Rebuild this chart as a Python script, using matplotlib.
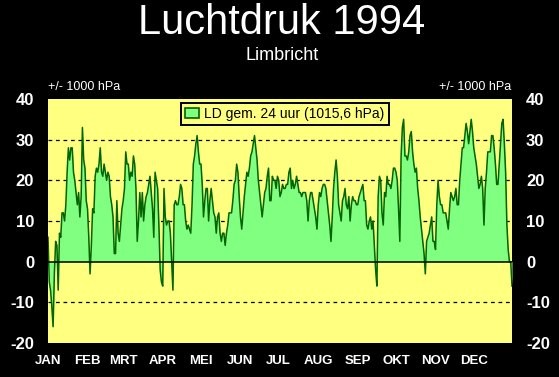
"""Luchtdruk 1994 Limbricht - daily mean air pressure minus 1000 hPa."""

import matplotlib

matplotlib.use("Agg")
import matplotlib.pyplot as plt
import numpy as np
from matplotlib.patches import Patch

plt.rcParams["font.family"] = ["Liberation Sans", "DejaVu Sans"]

# daily values (hPa above 1000), one list per month
jan = [6, -5, -7, -11, -16, -3, 5, 4, -7, 7, 6, 12, 12, 10, 14, 22, 28, 25, 28, 28,
       22, 20, 17, 14, 17, 11, 16, 33, 25, 23, 15]
feb = [13, 6, -3, 4, 13, 12, 21, 23, 22, 24, 28, 22, 21, 24, 22, 20, 22, 21, 16, 14,
       11, 2, 2, 15, 7, 5, 9, 13]
mrt = [15, 18, 27, 24, 24, 20, 22, 21, 26, 24, 18, 5, 10, 17, 11, 17, 10, 14, 16, 17,
       19, 21, 17, 13, 6, 22, 20, 18, 9, -2, -5]
apr = [-6, 18, 11, 9, 10, 10, 7, 0, -7, 14, 15, 14, 14, 16, 19, 18, 14, 14, 10, 8,
       9, 8, 7, 14, 24, 26, 29, 31, 27, 24]
mei = [24, 19, 11, 15, 18, 18, 10, 15, 18, 15, 12, 11, 7, 11, 12, 7, 5, 7, 7, 4,
       7, 9, 12, 12, 12, 15, 19, 20, 24, 22, 16]
jun = [11, 8, 12, 16, 19, 22, 21, 23, 26, 27, 29, 31, 28, 25, 20, 17, 14, 11, 14, 17,
       18, 21, 23, 15, 15, 21, 20, 20, 18, 21]
jul = [20, 16, 17, 19, 18, 18, 19, 19, 22, 23, 18, 20, 18, 19, 21, 19, 17, 17, 16, 17,
       17, 17, 15, 10, 15, 17, 17, 15, 13, 11, 8]
aug = [14, 17, 16, 18, 19, 19, 18, 15, 12, 9, 5, 11, 18, 22, 25, 21, 14, 12, 10, 15,
       16, 18, 14, 13, 16, 10, 14, 16, 15, 15, 14]
sep = [14, 16, 17, 18, 19, 15, 15, 9, 8, 10, 11, 8, 10, 4, -2, -6, 16, 21, 20, 12,
       9, 17, 16, 21, 19, 19, 18, 20, 23, 23]
okt = [22, 20, 13, 5, 26, 33, 35, 26, 26, 25, 27, 31, 32, 27, 24, 22, 23, 18, 15, 11,
       8, 5, 2, -3, 5, 6, 7, 9, 11, 5, 5]
nov = [3, 14, 20, 16, 14, 14, 12, 12, 12, 10, 8, 13, 17, 16, 15, 16, 18, 14, 14, 20,
       24, 28, 28, 31, 34, 32, 29, 32, 35, 32]
dec = [28, 26, 24, 21, 18, 19, 21, 18, 9, 18, 22, 27, 27, 27, 31, 31, 28, 24, 19, 19,
       24, 29, 34, 35, 29, 22, 9, 3, 0, 0, -6]

months = [jan, feb, mrt, apr, mei, jun, jul, aug, sep, okt, nov, dec]
month_labels = ["JAN", "FEB", "MRT", "APR", "MEI", "JUN", "JUL", "AUG", "SEP", "OKT", "NOV", "DEC"]
y_ticks = [-20, -10, 0, 10, 20, 30, 40]
legend_label = "LD gem. 24 uur (1015,6 hPa)"


def main():
    values = np.concatenate([np.array(m, dtype=float) for m in months])
    days = np.arange(len(values))
    month_starts = np.cumsum([0] + [len(m) for m in months[:-1]])

    fig = plt.figure(figsize=(5.59, 3.77), dpi=100, facecolor="black")
    ax = fig.add_axes([48 / 559, 34 / 377, 464 / 559, 244 / 377])
    ax.set_facecolor("#FFFF80")

    ax.fill_between(days, 0, values, color="#80FF80", lw=0, zorder=2)
    ax.plot(days, values, color="#006400", lw=1.1, zorder=3)

    for v in (-10, 10, 20, 30):
        ax.axhline(v, color="black", ls=(0, (3, 3)), lw=0.9, zorder=1)
    ax.axhline(0, color="black", lw=1.1, zorder=4)

    ax.set_xlim(0, len(values) - 1)
    ax.set_ylim(-20, 40)
    ax.set_yticks(y_ticks)
    ax.set_yticklabels([str(t) for t in y_ticks], fontweight="bold")
    ax.set_xticks(month_starts)
    ax.set_xticklabels(month_labels, fontsize=9.5, fontweight="bold")
    ax.tick_params(axis="y", length=0, colors="white", labelsize=12, pad=10,
                   labelright=True)
    ax.tick_params(axis="y", which="both", right=False)
    for lbl in ax.get_yticklabels(which="major"):
        lbl.set_fontweight("bold")
    ax.tick_params(axis="x", length=0, colors="white", pad=9)
    for s in ax.spines.values():
        s.set_visible(False)

    handle = Patch(facecolor="#80FF80", edgecolor="#006400", lw=1.2)
    leg = ax.legend([handle], [legend_label], loc="upper center",
                    bbox_to_anchor=(0.51, 0.985), borderaxespad=0, fontsize=10,
                    frameon=True, fancybox=False, edgecolor="black",
                    facecolor="#FFFF80", framealpha=1, handlelength=1.0,
                    handleheight=0.7, handletextpad=0.4, borderpad=0.3)
    leg.get_frame().set_linewidth(1.4)
    leg.set_zorder(10)

    fig.text(0.503, 1 - 34 / 377, "Luchtdruk 1994", ha="center", va="baseline",
             fontsize=30, color="white")
    fig.text(0.505, 1 - 59.5 / 377, "Limbricht", ha="center", va="baseline",
             fontsize=13, color="white")
    fig.text(48 / 559, 1 - 90 / 377, "+/- 1000 hPa", ha="left", va="baseline",
             fontsize=9, color="white")
    fig.text(511 / 559, 1 - 90 / 377, "+/- 1000 hPa", ha="right", va="baseline",
             fontsize=9, color="white")

    fig.savefig("out.png", dpi=100, facecolor="black")


if __name__ == "__main__":
    main()
